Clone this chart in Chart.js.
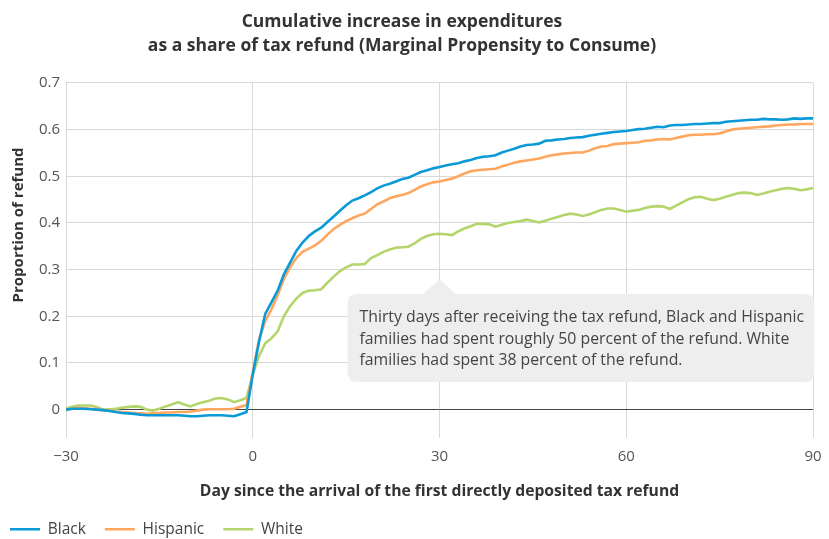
<!DOCTYPE html>
<html>
<head>
<meta charset="utf-8">
<script src="https://cdn.jsdelivr.net/npm/chart.js@4/dist/chart.umd.min.js"></script>
<style>
  html, body { margin: 0; padding: 0; background: #ffffff; }
  #wrap { width: 829px; height: 539px; position: relative; }
</style>
</head>
<body>
<div id="wrap"><canvas id="c" width="829" height="539"></canvas></div>
<script>
// Days relative to arrival of the refund (-30 .. 90)
const days = [
  -30,-29,-28,-27,-26,-25,-24,-23,-22,-21,-20,-19,-18,-17,-16,-15,-14,-13,-12,-11,
  -10,-9,-8,-7,-6,-5,-4,-3,-2,-1,0,1,2,3,4,5,6,7,8,9,
  10,11,12,13,14,15,16,17,18,19,20,21,22,23,24,25,26,27,28,29,
  30,31,32,33,34,35,36,37,38,39,40,41,42,43,44,45,46,47,48,49,
  50,51,52,53,54,55,56,57,58,59,60,61,62,63,64,65,66,67,68,69,
  70,71,72,73,74,75,76,77,78,79,80,81,82,83,84,85,86,87,88,89,90
];

const black = [
  0,0.002,0.002,0.002,0.001,0,-0.001,-0.003,-0.005,-0.007,-0.008,-0.009,-0.011,-0.012,-0.012,-0.012,-0.012,-0.012,-0.012,-0.013,
  -0.014,-0.014,-0.013,-0.012,-0.012,-0.012,-0.013,-0.014,-0.010,-0.005,0.075,0.145,0.205,0.230,0.255,0.290,0.315,0.340,0.358,0.372,
  0.382,0.390,0.402,0.414,0.426,0.438,0.448,0.453,0.459,0.466,0.474,0.480,0.484,0.489,0.494,0.497,0.503,0.509,0.513,0.517,
  0.520,0.523,0.526,0.528,0.532,0.535,0.539,0.542,0.543,0.545,0.551,0.555,0.559,0.564,0.567,0.568,0.570,0.576,0.577,0.579,
  0.580,0.582,0.583,0.584,0.587,0.589,0.591,0.593,0.595,0.596,0.597,0.599,0.601,0.602,0.604,0.606,0.605,0.609,0.610,0.610,
  0.611,0.612,0.612,0.613,0.614,0.614,0.617,0.618,0.619,0.620,0.621,0.621,0.623,0.622,0.622,0.621,0.622,0.624,0.623,0.624,0.624
];

const hispanic = [
  0,0.002,0.004,0.003,0.002,0,-0.001,-0.002,-0.004,-0.005,-0.006,-0.007,-0.008,-0.009,-0.008,-0.007,-0.006,-0.006,-0.005,-0.005,
  -0.004,-0.002,0,0.001,0.001,0.001,0.001,0.002,0.006,0.010,0.080,0.150,0.190,0.215,0.245,0.280,0.305,0.325,0.338,0.345,
  0.352,0.362,0.375,0.387,0.396,0.404,0.410,0.416,0.420,0.430,0.440,0.446,0.453,0.457,0.460,0.464,0.471,0.478,0.483,0.487,
  0.489,0.492,0.495,0.500,0.506,0.511,0.513,0.514,0.515,0.516,0.521,0.525,0.529,0.532,0.534,0.536,0.538,0.542,0.545,0.547,
  0.549,0.550,0.551,0.551,0.555,0.560,0.564,0.565,0.569,0.570,0.571,0.572,0.573,0.576,0.577,0.579,0.580,0.579,0.582,0.585,
  0.588,0.589,0.589,0.590,0.590,0.592,0.596,0.600,0.602,0.603,0.604,0.605,0.606,0.607,0.609,0.610,0.611,0.611,0.612,0.612,0.612
];

const white = [
  0.002,0.006,0.009,0.009,0.009,0.005,0,0.001,0.002,0.004,0.006,0.007,0.006,0,-0.002,0.002,0.007,0.011,0.016,0.011,
  0.007,0.012,0.016,0.019,0.024,0.025,0.022,0.016,0.020,0.025,0.075,0.115,0.142,0.153,0.168,0.200,0.222,0.238,0.250,0.255,
  0.256,0.258,0.272,0.285,0.297,0.305,0.311,0.311,0.312,0.325,0.331,0.338,0.343,0.347,0.348,0.349,0.356,0.366,0.372,0.376,
  0.377,0.376,0.374,0.382,0.388,0.393,0.398,0.398,0.397,0.392,0.396,0.400,0.402,0.404,0.407,0.404,0.401,0.405,0.409,0.413,
  0.417,0.420,0.418,0.415,0.418,0.423,0.428,0.431,0.431,0.428,0.424,0.426,0.428,0.432,0.435,0.436,0.435,0.430,0.437,0.444,
  0.451,0.455,0.456,0.452,0.449,0.452,0.456,0.460,0.464,0.465,0.464,0.460,0.463,0.467,0.470,0.473,0.475,0.473,0.470,0.472,0.475
];

const seriesNames = ["Black", "Hispanic", "White"];
const xTicks = [-30, 0, 30, 60, 90];
const yTicks = [0, 0.1, 0.2, 0.3, 0.4, 0.5, 0.6, 0.7];
const titleLines = ["Cumulative increase in expenditures", "as a share of tax refund (Marginal Propensity to Consume)"];
const xTitle = "Day since the arrival of the first directly deposited tax refund";
const yTitle = "Proportion of refund";
const noteLines = [
  "Thirty days after receiving the tax refund, Black and Hispanic",
  "families had spent roughly 50 percent of the refund. White",
  "families had spent 38 percent of the refund."
];
const noteDay = 30;
const noteTipValue = 0.28;

const FONT = "'Open Sans', Lato, 'DejaVu Sans', sans-serif";
const colors = ["#0a9ad8", "#ffa65f", "#b3d56c"];
const seriesValues = [black, hispanic, white];

const toPoints = arr => days.map((d, i) => ({ x: d, y: arr[i] }));

const yTitlePlugin = {
  id: 'yTitlePlugin',
  afterDraw(chart) {
    const ctx = chart.ctx;
    ctx.save();
    ctx.translate(19, chart.chartArea.top + 142);
    ctx.rotate(-Math.PI / 2);
    ctx.font = "bold 15px " + FONT;
    ctx.fillStyle = "#333333";
    ctx.textAlign = "center";
    ctx.textBaseline = "middle";
    ctx.fillText(yTitle, 0, 0);
    ctx.restore();
  }
};

const notePlugin = {
  id: 'notePlugin',
  afterDatasetsDraw(chart) {
    const ctx = chart.ctx;
    const xs = chart.scales.x, ys = chart.scales.y;
    const tipX = xs.getPixelForValue(noteDay);
    const tipY = ys.getPixelForValue(noteTipValue);
    const left = tipX - 92, right = tipX + 375;
    const top = tipY + 15, bottom = tipY + 103;
    const r = 10;
    ctx.save();
    ctx.fillStyle = "#eeeeee";
    ctx.beginPath();
    ctx.moveTo(left + r, top);
    ctx.lineTo(tipX - 16, top);
    ctx.lineTo(tipX, tipY);
    ctx.lineTo(tipX + 16, top);
    ctx.lineTo(right - r, top);
    ctx.quadraticCurveTo(right, top, right, top + r);
    ctx.lineTo(right, bottom - r);
    ctx.quadraticCurveTo(right, bottom, right - r, bottom);
    ctx.lineTo(left + r, bottom);
    ctx.quadraticCurveTo(left, bottom, left, bottom - r);
    ctx.lineTo(left, top + r);
    ctx.quadraticCurveTo(left, top, left + r, top);
    ctx.closePath();
    ctx.fill();
    ctx.fillStyle = "#444444";
    ctx.font = "15.8px " + FONT;
    ctx.textAlign = "left";
    ctx.textBaseline = "middle";
    noteLines.forEach((t, i) => ctx.fillText(t, left + 12, top + 24 + i * 21.5));
    ctx.restore();
  }
};

new Chart(document.getElementById('c'), {
  type: 'line',
  data: {
    datasets: seriesNames.map((name, i) => ({
      label: name,
      data: toPoints(seriesValues[i]),
      borderColor: colors[i],
      backgroundColor: colors[i],
      borderWidth: 2.6,
      pointRadius: 0,
      tension: 0,
      fill: false
    }))
  },
  options: {
    responsive: false,
    animation: false,
    layout: { padding: { left: -9, right: 16, top: 0, bottom: -8 } },
    plugins: {
      title: {
        display: true,
        text: titleLines,
        color: "#333333",
        font: { family: FONT, size: 17.5, weight: 'bold', lineHeight: 1.37 },
        padding: { top: 10, bottom: 25 }
      },
      legend: {
        position: 'bottom',
        align: 'start',
        labels: {
          usePointStyle: true,
          pointStyle: 'line',
          pointStyleWidth: 30,
          boxHeight: 15.5,
          color: "#444444",
          font: { family: FONT, size: 15.5 },
          padding: 19
        }
      },
      tooltip: { enabled: false }
    },
    scales: {
      x: {
        type: 'linear',
        min: xTicks[0],
        max: xTicks[xTicks.length - 1],
        afterBuildTicks(scale) { scale.ticks = xTicks.map(v => ({ value: v })); },
        afterFit(scale) { scale.paddingRight = 0; },
        ticks: {
          color: "#555555",
          font: { family: FONT, size: 15 },
          padding: 10,
          callback: v => String(v).replace('-', '\u2212')
        },
        grid: { color: "#d9d9d9", lineWidth: 1, drawTicks: false },
        border: { display: false },
        title: {
          display: true,
          text: xTitle,
          color: "#333333",
          font: { family: FONT, size: 15.7, weight: 'bold' },
          padding: { top: 6, bottom: 2 }
        }
      },
      y: {
        min: -0.06,
        max: 0.7,
        afterBuildTicks(scale) { scale.ticks = yTicks.map(v => ({ value: v })); },
        afterFit(scale) { scale.width = 75; },
        ticks: {
          color: "#555555",
          font: { family: FONT, size: 15 },
          padding: 6,
          callback: v => (Math.round(v * 10) / 10).toString()
        },
        grid: {
          color: ctx => (ctx.tick && Math.abs(ctx.tick.value) < 1e-9) ? "#444444" : "#d9d9d9",
          lineWidth: 1,
          drawTicks: false
        },
        border: { display: false }
      }
    }
  },
  plugins: [yTitlePlugin, notePlugin]
});
</script>
</body>
</html>
